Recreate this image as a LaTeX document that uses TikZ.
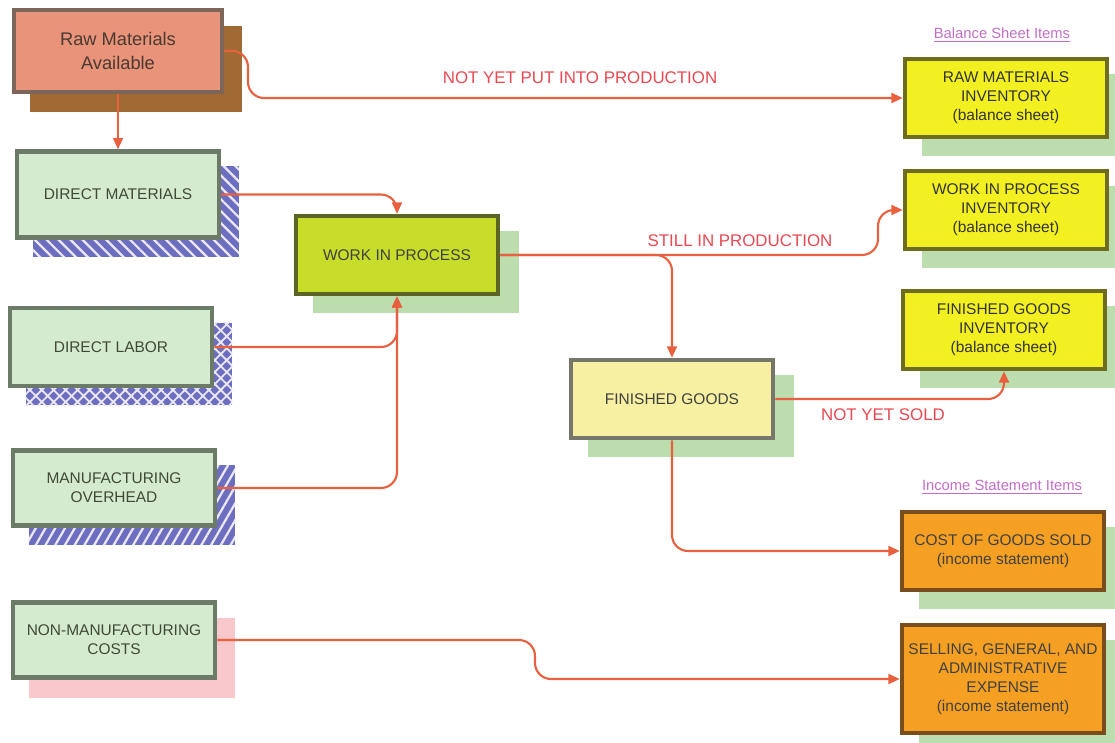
\documentclass[tikz,border=0pt]{standalone}
\usepackage{fontspec}
\setmainfont{Liberation Sans}
\usetikzlibrary{positioning, arrows.meta, patterns.meta, backgrounds}

\definecolor{srcfill}{HTML}{E8937A}
\definecolor{srcline}{HTML}{7B6659}
\definecolor{srctext}{HTML}{4A3A30}
\definecolor{brownshade}{HTML}{A06A35}
\definecolor{costfill}{HTML}{D5EBD0}
\definecolor{costline}{HTML}{6C7A68}
\definecolor{costtext}{HTML}{3E4A35}
\definecolor{blueshade}{HTML}{6E6EC0}
\definecolor{pinkshade}{HTML}{F8C8CC}
\definecolor{greenshade}{HTML}{BCDDAE}
\definecolor{wipfill}{HTML}{C8DC2A}
\definecolor{wipline}{HTML}{5C6424}
\definecolor{fgfill}{HTML}{F7F0A2}
\definecolor{fgline}{HTML}{76766A}
\definecolor{invfill}{HTML}{F2F020}
\definecolor{invline}{HTML}{6E6C1E}
\definecolor{isfill}{HTML}{F5A023}
\definecolor{isline}{HTML}{7A4E1C}
\definecolor{flowred}{HTML}{E9603F}
\definecolor{labelred}{HTML}{E94852}
\definecolor{headpurple}{HTML}{C46DC8}

\begin{document}
\begin{tikzpicture}
% style
	[x=0.025cm, y=-0.025cm,
	box/.style={rectangle, line width=3.2pt, minimum width=5.05cm, minimum height=1.95cm, align=center, inner sep=2pt, font=\fontsize{11}{13.5}\selectfont},
	source/.style={box, draw=srcline, fill=srcfill, text=srctext, minimum width=5.2cm, minimum height=2.05cm, font=\fontsize{13}{16.5}\selectfont},
	cost/.style={box, draw=costline, fill=costfill, text=costtext},
	wipbox/.style={box, draw=wipline, fill=wipfill, text=black!75},
	fgbox/.style={box, draw=fgline, fill=fgfill, text=black!75},
	inventory/.style={box, draw=invline, fill=invfill, text=black!80},
	expense/.style={box, draw=isline, fill=isfill, text=black!75},
	flow/.style={draw=flowred, line width=1.5pt, rounded corners=0.4cm, -{Triangle[length=8pt,width=7pt]}},
	flow_label/.style={text=labelred, font=\fontsize{12}{14}\selectfont},
	heading/.style={text=headpurple, font=\fontsize{10.5}{12}\selectfont}]
	\useasboundingbox (0,0) rectangle (1115,742);

	% inputs
	\node [source] (rm) at (118,51) {Raw Materials\\Available};
	\node [cost, minimum height=2.15cm] (dm) [below=1.375cm of rm] {DIRECT MATERIALS};
	\node [cost] (dl) at (111,347) {DIRECT LABOR};
	\node [cost, minimum height=1.88cm] (moh) at (114,488) {MANUFACTURING\\OVERHEAD};
	\node [cost, minimum height=1.88cm] (nmc) at (114,640) {NON-MANUFACTURING\\COSTS};

	% production
	\node [wipbox] (wip) at (397,255) {WORK IN PROCESS};
	\node [fgbox] (fg) at (672,399) {FINISHED GOODS};

	% statements
	\node [heading] (bs) at (1002,35) {\underline{Balance Sheet Items}};
	\node [inventory] (rmi) at (1006,98) {RAW MATERIALS\\INVENTORY\\(balance sheet)};
	\node [inventory] (wipi) at (1006,210) {WORK IN PROCESS\\INVENTORY\\(balance sheet)};
	\node [inventory] (fgi) at (1004,330) {FINISHED GOODS\\INVENTORY\\(balance sheet)};
	\node [heading] (is) at (1002,487) {\underline{Income Statement Items}};
	\node [expense] (cogs) at (1003,551) {COST OF GOODS SOLD\\(income statement)};
	\node [expense, minimum height=2.7cm] (sga) at (1003,679) {SELLING, GENERAL, AND\\ADMINISTRATIVE\\EXPENSE\\(income statement)};

	% shadows
	\begin{pgfonlayer}{background}
		\fill [brownshade] ([shift={(18,18)}]rm.south west) rectangle ([shift={(18,18)}]rm.north east);
		\foreach \n in {dm, dl, moh}
			\fill [blueshade] ([shift={(18,17)}]\n.south west) rectangle ([shift={(18,17)}]\n.north east);
		\fill [pattern={Lines[angle=-45,distance=6pt,line width=1.6pt]}, pattern color=white!85!blueshade] ([shift={(18,17)}]dm.south west) rectangle ([shift={(18,17)}]dm.north east);
		\fill [pattern={Hatch[angle=45,distance=6pt,line width=1.3pt]}, pattern color=white!85!blueshade] ([shift={(18,17)}]dl.south west) rectangle ([shift={(18,17)}]dl.north east);
		\fill [pattern={Lines[angle=60,distance=6pt,line width=1.6pt]}, pattern color=white!85!blueshade] ([shift={(18,17)}]moh.south west) rectangle ([shift={(18,17)}]moh.north east);
		\fill [pinkshade] ([shift={(18,18)}]nmc.south west) rectangle ([shift={(18,18)}]nmc.north east);
		\foreach \n in {wip, fg, rmi, wipi, fgi, cogs, sga}
			\fill [greenshade] ([shift={(19,17)}]\n.south west) rectangle ([shift={(19,17)}]\n.north east);
	\end{pgfonlayer}

	% flows
	\draw [flow] (rm.east) -| (248,98) -- (rmi.west);
	\node [flow_label] (notput) at (580,78) {NOT YET PUT INTO PRODUCTION};
	\draw [flow] (rm.south) -- (dm.north);
	\draw [flow] (dm.east) -| (wip.north);
	\draw [flow] (dl.east) -| (wip.south);
	\draw [flow] (moh.east) -| (wip.south);
	\draw [flow] (wip.east) -- (878,255) |- (wipi.west);
	\node [flow_label] (still) at (740,241) {STILL IN PRODUCTION};
	\draw [flow] (wip.east) -| (fg.north);
	\draw [flow] (fg.east) -| (fgi.south);
	\node [flow_label] (notsold) at (883,415) {NOT YET SOLD};
	\draw [flow] (fg.south) |- (cogs.west);
	\draw [flow] (nmc.east) -- (535,640) |- (sga.west);
\end{tikzpicture}
\end{document}
